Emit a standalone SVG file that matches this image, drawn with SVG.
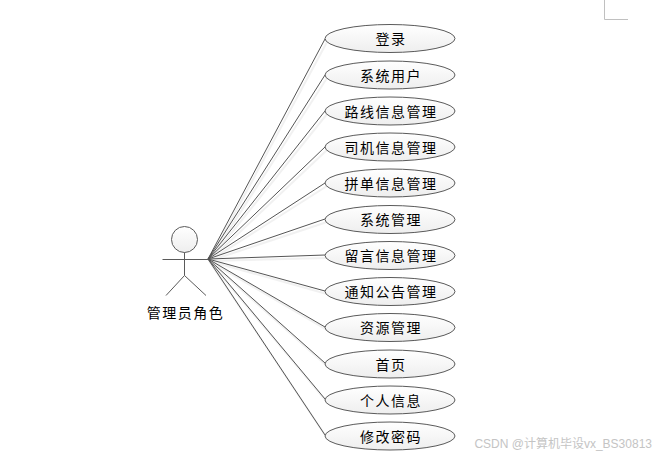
<svg xmlns="http://www.w3.org/2000/svg" width="665" height="457" viewBox="0 0 665 457">
<defs>
<linearGradient id="g" x1="0" y1="0" x2="0" y2="1"><stop offset="0" stop-color="#ffffff"/><stop offset="1" stop-color="#eeeeee"/></linearGradient>
</defs>
<style>
.u{fill:url(#g);stroke:#5a5a5a;stroke-width:1}
.s{fill:none;stroke:#e4e4e4;stroke-width:2}
.t{font-family:"Noto Sans CJK SC","Liberation Sans",sans-serif;font-size:14px;fill:#000;text-anchor:middle;letter-spacing:1.5px}
.c{fill:none;stroke:#555;stroke-width:1}
</style>
<rect width="665" height="457" fill="#fff"/>
<path d="M604.500 0V19.500H628" fill="none" stroke="#c0c0c0" stroke-width="1"/>
<g id="connectors">
<path class="s" d="M209 261L327 42M209 261L327 78M209 261L327 114M209 261L327 150M209 261L327 186M209 261L327 222M209 261L327 258M209 261L327 294M209 261L327 330M209 261L327 366M209 261L327 402M209 261L327 438" stroke-opacity=".5"/>
<path class="c" d="M208 259L325 39M208 259L325 75M208 259L325 111M208 259L325 147M208 259L325 183M208 259L325 219M208 259L325 255M208 259L325 291M208 259L325 327M208 259L325 363M208 259L325 399M208 259L325 435"/>
</g>
<g id="actor">
<circle cx="184.500" cy="239.500" r="13" class="u"/>
<path d="M162.500 259.500H208M184.500 252.500V275.500M184.500 275.500L166 295.500M184.500 275.500L206 295.500" fill="none" stroke="#5a5a5a" stroke-width="1"/>
<text x="185.500" y="318" class="t">管理员角色</text>
</g>
<g id="n1"><ellipse cx="390" cy="38.500" rx="65" ry="14" class="u"/><text x="391" y="44" class="t">登录</text></g>
<g id="n2"><ellipse cx="390" cy="75" rx="65" ry="14" class="u"/><text x="391" y="80.500" class="t">系统用户</text></g>
<g id="n3"><ellipse cx="390" cy="111" rx="65" ry="14" class="u"/><text x="391" y="116.500" class="t">路线信息管理</text></g>
<g id="n4"><ellipse cx="390" cy="147" rx="65" ry="14" class="u"/><text x="391" y="152.500" class="t">司机信息管理</text></g>
<g id="n5"><ellipse cx="390" cy="183" rx="65" ry="14" class="u"/><text x="391" y="188.500" class="t">拼单信息管理</text></g>
<g id="n6"><ellipse cx="390" cy="219.500" rx="65" ry="14" class="u"/><text x="391" y="225" class="t">系统管理</text></g>
<g id="n7"><ellipse cx="390" cy="255.500" rx="65" ry="14" class="u"/><text x="391" y="261" class="t">留言信息管理</text></g>
<g id="n8"><ellipse cx="390" cy="291.500" rx="65" ry="14" class="u"/><text x="391" y="297" class="t">通知公告管理</text></g>
<g id="n9"><ellipse cx="390" cy="327.500" rx="65" ry="14" class="u"/><text x="391" y="333" class="t">资源管理</text></g>
<g id="n10"><ellipse cx="390" cy="364" rx="65" ry="14" class="u"/><text x="391" y="369.500" class="t">首页</text></g>
<g id="n11"><ellipse cx="390" cy="400" rx="65" ry="14" class="u"/><text x="391" y="405.500" class="t">个人信息</text></g>
<g id="n12"><ellipse cx="390" cy="436" rx="65" ry="14" class="u"/><text x="391" y="441.500" class="t">修改密码</text></g>
<text x="652" y="448" text-anchor="end" font-family="'Liberation Sans','Noto Sans CJK SC',sans-serif" font-size="12" fill="#c4c4c4">CSDN @计算机毕设vx_BS30813</text>
</svg>
